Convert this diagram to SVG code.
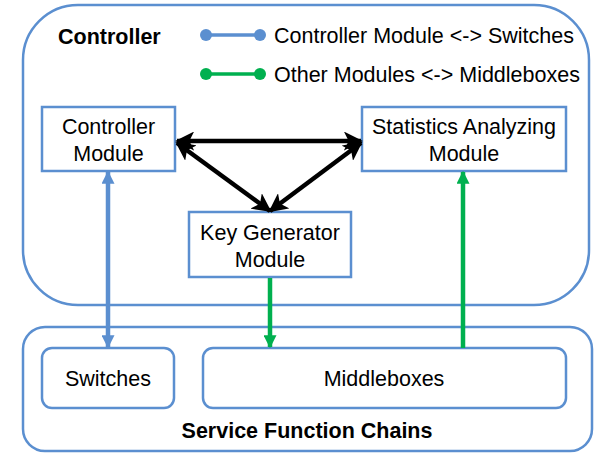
<svg xmlns="http://www.w3.org/2000/svg" width="602" height="458" viewBox="0 0 602 458">
<style>
.box{fill:#fff;stroke:#5b8fd0;stroke-width:2.5}
.t{font-family:"Liberation Sans",Arial,sans-serif;font-size:21.5px;fill:#000;text-anchor:middle}
.b{font-family:"Liberation Sans",Arial,sans-serif;font-weight:bold;font-size:21.5px;fill:#000}
.lg{font-family:"Liberation Sans",Arial,sans-serif;font-size:21.5px;fill:#000}
.blk{stroke:#000;stroke-width:4.5;fill:none}
.blu{stroke:#5b8fd0;stroke-width:4.5;fill:none}
.grn{stroke:#00b04f;stroke-width:4.5;fill:none}
</style>
<defs>
<marker id="ab" viewBox="0 0 10 10" refX="9" refY="5" markerWidth="19" markerHeight="19" markerUnits="userSpaceOnUse" orient="auto-start-reverse"><path d="M0,0 L10,5 L0,10 L2.5,5 z" fill="#000"/></marker>
<marker id="au" viewBox="0 0 10 10" refX="9" refY="5" markerWidth="13" markerHeight="13" markerUnits="userSpaceOnUse" orient="auto-start-reverse"><path d="M0,0 L10,5 L0,10 z" fill="#5b8fd0"/></marker>
<marker id="ag" viewBox="0 0 10 10" refX="9" refY="5" markerWidth="13" markerHeight="13" markerUnits="userSpaceOnUse" orient="auto-start-reverse"><path d="M0,0 L10,5 L0,10 z" fill="#00b04f"/></marker>
</defs>
<g id="controller"><rect class="box" x="23" y="5" width="566" height="300" rx="55"/><text class="b" x="58" y="44" font-size="22.5">Controller</text></g>
<g id="legend">
<line x1="206" y1="35" x2="260" y2="35" stroke="#5b8fd0" stroke-width="3.5"/><circle cx="206" cy="35" r="6" fill="#5b8fd0"/><circle cx="260" cy="35" r="6" fill="#5b8fd0"/>
<text class="lg" x="274" y="43">Controller Module &lt;-&gt; Switches</text>
<line x1="206" y1="74" x2="260" y2="74" stroke="#00b04f" stroke-width="3.5"/><circle cx="206" cy="74" r="6" fill="#00b04f"/><circle cx="260" cy="74" r="6" fill="#00b04f"/>
<text class="lg" x="274" y="82">Other Modules &lt;-&gt; Middleboxes</text>
</g>
<g id="sfc"><rect class="box" x="23" y="327" width="569" height="124" rx="22"/><text class="b" x="307" y="438" text-anchor="middle">Service Function Chains</text></g>
<g id="controller-module"><rect class="box" x="42" y="107" width="133" height="64"/><text class="t" x="108.5" y="134">Controller</text><text class="t" x="108.5" y="161">Module</text></g>
<g id="stats-module"><rect class="box" x="362" y="107" width="204" height="64"/><text class="t" x="464" y="134">Statistics Analyzing</text><text class="t" x="464" y="161">Module</text></g>
<g id="keygen-module"><rect class="box" x="189" y="212" width="162" height="65"/><text class="t" x="270" y="240">Key Generator</text><text class="t" x="270" y="267">Module</text></g>
<g id="switches"><rect class="box" x="42" y="348" width="132" height="60" rx="10"/><text class="t" x="108" y="386">Switches</text></g>
<g id="middleboxes"><rect class="box" x="203" y="348" width="363" height="60" rx="10"/><text class="t" x="384" y="386">Middleboxes</text></g>
<g id="connectors">
<line class="blk" x1="177" y1="141" x2="361" y2="141" marker-start="url(#ab)" marker-end="url(#ab)"/>
<line class="blk" x1="177" y1="143" x2="270" y2="211" marker-start="url(#ab)" marker-end="url(#ab)"/>
<line class="blk" x1="361" y1="143" x2="270" y2="211" marker-start="url(#ab)" marker-end="url(#ab)"/>
<line class="blu" x1="108" y1="172" x2="108" y2="347" marker-start="url(#au)" marker-end="url(#au)"/>
<line class="grn" x1="270" y1="278" x2="270" y2="347" marker-end="url(#ag)"/>
<line class="grn" x1="463" y1="348" x2="463" y2="172" marker-end="url(#ag)"/>
</g>
</svg>
